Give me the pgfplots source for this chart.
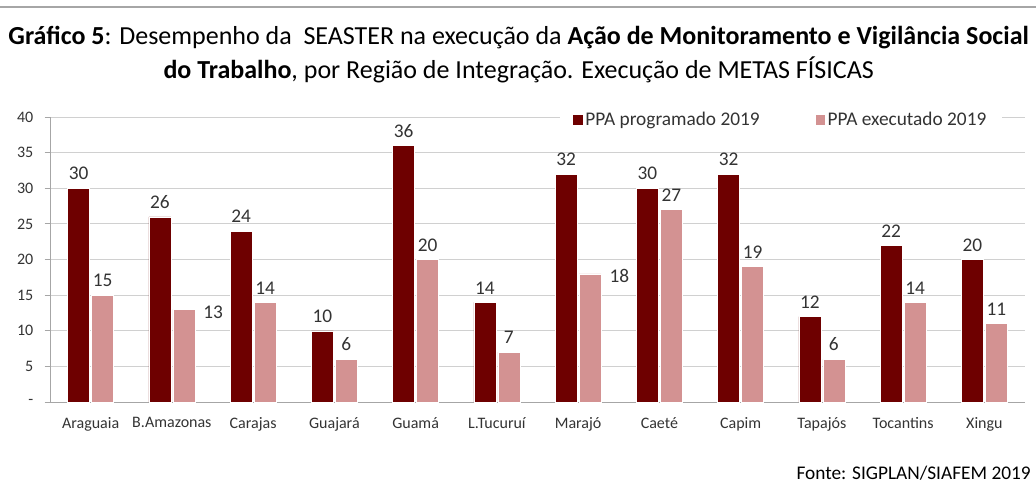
\documentclass[border=0pt]{standalone}
\usepackage{pgfplots}
\pgfplotsset{compat=1.18}
\usepackage{pgfplotstable}
\usepackage{fontspec}
\setmainfont{Carlito}
\definecolor{darkred}{HTML}{6E0000}
\definecolor{pinkbar}{HTML}{D39292}
\definecolor{gridgray}{HTML}{D0D0D0}
\definecolor{axgray}{HTML}{A6A6A6}
\definecolor{txtgray}{HTML}{333333}

\pgfplotstableread{
x y
0 30
1 26
2 24
3 10
4 36
5 14
6 32
7 30
8 32
9 12
10 22
11 20
}\prog
\pgfplotstableread{
x y
0 15
1 13
2 14
3 6
4 20
5 7
6 18
7 27
8 19
9 6
10 14
11 11
}\exec

\begin{document}
\begin{tikzpicture}
\path[use as bounding box] (0,0) rectangle (777pt,-364.5pt);
\draw[axgray, line width=0.8pt] (0,-5.25pt) -- (777pt,-5.25pt);
\node[font=\fontsize{19.5}{22}\selectfont, text=black, inner sep=0pt] at (389pt,-28.5pt)
  {\textbf{Gráfico 5}: Desempenho da\ \ SEASTER na execução da \textbf{Ação de Monitoramento e Vigilância Social}};
\node[font=\fontsize{19.5}{22}\selectfont, text=black, inner sep=0pt] at (389pt,-52.5pt)
  {\textbf{do Trabalho}, por Região de Integração. Execução de METAS FÍSICAS};
\node[font=\fontsize{14.5}{17}\selectfont, text=black, anchor=east, inner sep=0pt] at (773.25pt,-354.75pt)
  {Fonte: SIGPLAN/SIAFEM 2019};

\begin{axis}[
  at={(37.5pt,-301.5pt)}, anchor=south west,
  scale only axis, width=731.25pt, height=213.75pt,
  ybar=1.5pt, bar width=16.5pt,
  xmin=-0.5, xmax=11.5, ymin=0, ymax=40,
  axis lines*=left,
  axis line style={axgray, line width=0.6pt},
  xtick={0,...,11},
  xticklabels={Araguaia,B.Amazonas,Carajas,Guajará,Guamá,L.Tucuruí,Marajó,Caeté,Capim,Tapajós,Tocantins,Xingu},
  x tick style={draw=none},
  extra x ticks={-0.5,0.5,...,11.5},
  extra x tick labels={},
  extra x tick style={tick style={draw=axgray, line width=0.6pt}, major tick length=4pt, tick align=outside, grid=none},
  ytick={0,5,...,40},
  yticklabels={-,5,10,15,20,25,30,35,40},
  y tick style={draw=axgray, line width=0.6pt},
  major tick length=4pt, tick align=outside,
  ymajorgrids, grid style={gridgray, line width=0.6pt},
  tick label style={font=\fontsize{12}{14}\selectfont, text=txtgray},
  /pgf/number format/assume math mode=true,
  xticklabel style={yshift=-4pt},
  yticklabel style={xshift=-5pt},
  nodes near coords,
  nodes near coords style={font=\fontsize{14.5}{17}\selectfont, text=txtgray, inner sep=3pt, yshift=3pt},
  legend columns=2,
  legend style={at={(0.75,0.99)}, anchor=center, draw=none, fill=white,
    font=\fontsize{14.5}{17}\selectfont, text=txtgray, inner xsep=10pt,
    /tikz/every even column/.append style={column sep=40pt}},
  legend image code/.code={\fill[#1,draw=none] (-2pt,-3.5pt) rectangle (5pt,3.5pt);},
  clip=false,
]
\addplot[fill=darkred, draw=white, line width=0.3pt] table[x=x,y=y] {\prog};
\addplot[fill=pinkbar, draw=white, line width=0.3pt,
  visualization depends on={x \as \myx},
  nodes near coords style={xshift={ifthenelse(\myx==1 || \myx==6, 22, 0)*1pt},
                           yshift={ifthenelse(\myx==1 || \myx==6, -13, 0)*1pt}}]
  table[x=x,y=y] {\exec};
\legend{PPA programado 2019, PPA executado 2019}
\end{axis}
\end{tikzpicture}
\end{document}
